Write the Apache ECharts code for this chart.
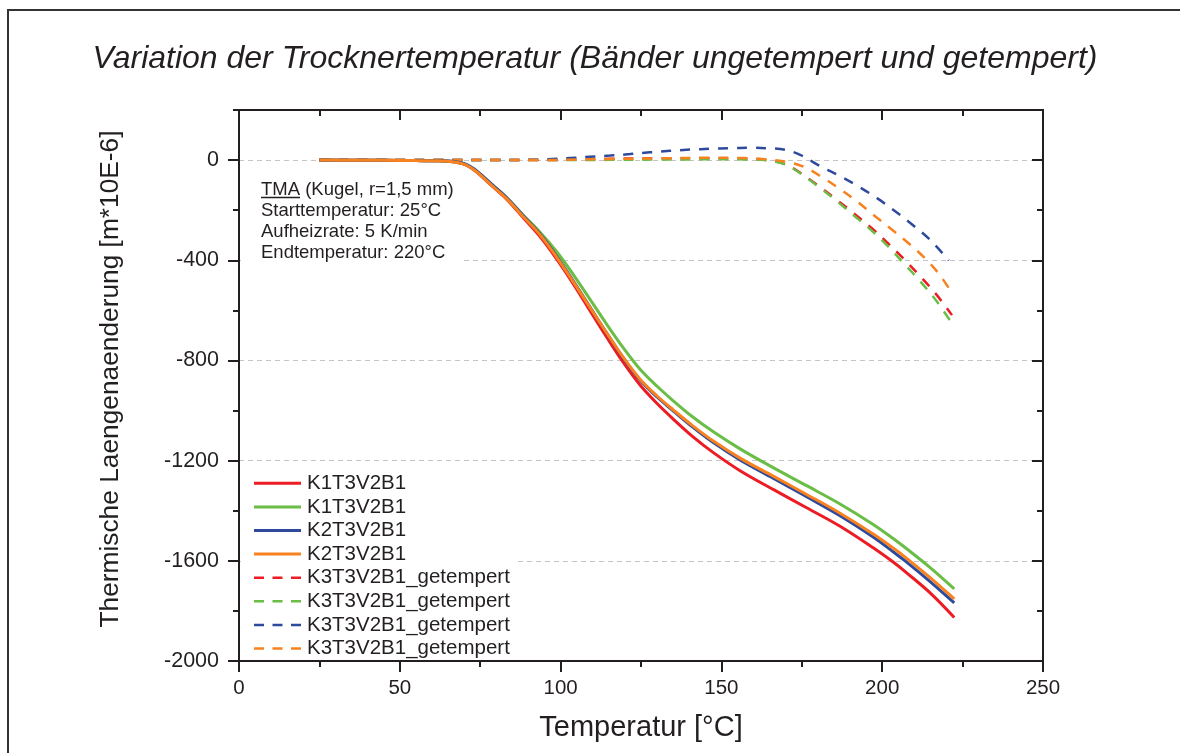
<!DOCTYPE html>
<html>
<head>
<meta charset="utf-8">
<script src="https://cdn.jsdelivr.net/npm/echarts@6/dist/echarts.min.js"></script>
<style>
  html, body { margin: 0; padding: 0; background: #fff; }
  #chart { width: 1180px; height: 753px; }
</style>
</head>
<body>
<div id="chart"></div>
<script>
// Tick values of the value axes
const xMajorTicks = [0, 50, 100, 150, 200, 250];
const yMajorTicks = [-2000, -1600, -1200, -800, -400, 0];

// Legend labels (in legend order)
const legendLabels = [
  'K1T3V2B1', 'K1T3V2B1', 'K2T3V2B1', 'K2T3V2B1',
  'K3T3V2B1_getempert', 'K3T3V2B1_getempert', 'K3T3V2B1_getempert', 'K3T3V2B1_getempert'
];

// Info box lines
const infoLines = [
  'TMA (Kugel, r=1,5 mm)',
  'Starttemperatur: 25°C',
  'Aufheizrate: 5 K/min',
  'Endtemperatur: 220°C'
];

// Measured curves: [temperature °C, length change m*10E-6]
const k1RedData = [[25,0],[35,-1],[45,-1],[55,-2],[62,-3],[65,-5],[67.5,-9],[70.5,-19],[72.8,-37],[75,-60],[79,-107],[83.2,-156],[88.4,-230],[93.6,-305],[98.8,-395],[104,-495],[109,-598],[114.3,-706],[119.5,-808],[124.7,-898],[130,-972],[135.1,-1035],[141,-1103],[147.5,-1168],[155.8,-1240],[166.1,-1315],[176.5,-1388],[186.9,-1462],[197.2,-1548],[203.5,-1606],[207.6,-1648],[214.9,-1728],[222.4,-1826]];
const k1GreenData = [[25,0],[35,-1],[45,-1],[55,-2],[62,-3],[65,-5],[67.5,-8],[70.5,-17],[72.8,-34],[75,-56],[79,-102],[83.2,-150],[88.4,-220],[93.6,-288],[98.8,-366],[104,-458],[109,-553],[114.3,-655],[119.5,-750],[124.7,-835],[130,-903],[135.1,-962],[141,-1025],[147.5,-1085],[155.8,-1153],[166.1,-1228],[176.5,-1300],[186.9,-1373],[197.2,-1455],[203.5,-1512],[207.6,-1552],[214.9,-1627],[222.4,-1712]];
const k2BlueData = [[25,0],[35,-1],[45,-1],[55,-2],[62,-3],[65,-4],[67.5,-7],[70.5,-16],[72.8,-33],[75,-55],[79,-101],[83.2,-150],[88.4,-222],[93.6,-295],[98.8,-384],[104,-484],[109,-584],[114.3,-690],[119.5,-790],[124.7,-878],[130,-946],[135.1,-1002],[141,-1065],[147.5,-1128],[155.8,-1197],[166.1,-1270],[176.5,-1344],[186.9,-1420],[197.2,-1505],[203.5,-1565],[207.6,-1605],[214.9,-1683],[222.4,-1768]];
const k2OrangeData = [[25,0],[35,-1],[45,-1],[55,-2],[62,-3],[65,-5],[67.5,-9],[70.5,-19],[72.8,-37],[75,-59],[79,-106],[83.2,-154],[88.4,-226],[93.6,-298],[98.8,-388],[104,-487],[109,-586],[114.3,-690],[119.5,-788],[124.7,-875],[130,-942],[135.1,-998],[141,-1060],[147.5,-1122],[155.8,-1190],[166.1,-1262],[176.5,-1335],[186.9,-1410],[197.2,-1493],[203.5,-1550],[207.6,-1590],[214.9,-1667],[222.4,-1752]];

const k3RedData = [[25,0],[40,0],[60,0],[80,0],[95,0],[105,2],[115,5],[130,7],[145,7],[155,6],[161,3],[164,0],[167,-6],[169.5,-15],[172,-30],[175,-55],[180.2,-103],[185.9,-159],[191.1,-212],[196.8,-272],[202,-335],[207.2,-401],[211.9,-465],[217,-539],[221.7,-619]];
const k3GreenData = [[25,0],[40,0],[60,0],[80,0],[95,0],[105,0],[115,1],[130,2],[145,3],[155,3],[161,2],[164,-1],[167,-7],[169.5,-16],[172,-32],[175,-57],[180.2,-106],[185.9,-164],[191.1,-220],[196.8,-282],[202,-347],[207.2,-419],[211.9,-485],[217,-565],[221.7,-652]];
const k3BlueData = [[25,0],[40,0],[60,0],[80,0],[90,1],[96,3],[102.9,8],[109,13],[115.4,18],[121.6,24],[127.8,31],[134,37],[140.3,42],[146.5,45],[152.7,48],[159,49],[165,47],[169.8,41],[174.5,21],[180.7,-24],[186.9,-64],[192.7,-106],[198.4,-152],[203.5,-199],[209.3,-257],[215,-320],[220.7,-401]];
const k3OrangeData = [[25,0],[40,0],[60,0],[80,0],[95,0],[105,2],[115,4],[130,7],[146.5,9],[157,8],[163,4],[169.3,-5],[175.5,-26],[181.3,-68],[186.9,-116],[192.2,-165],[197.3,-219],[202.5,-272],[208.2,-332],[213.4,-393],[217.5,-452],[221.7,-530]];

const FONT = '"Liberation Sans", Arial, Helvetica, sans-serif';
const INK = '#231f20';
const RED = '#ed1c24', GREEN = '#6abd45', BLUE = '#2e4a9d', ORANGE = '#f7821f';
const DASH = [10, 9];

// Series in legend order
const curves = [
  { label: legendLabels[0], data: k1RedData, color: RED, dashed: false },
  { label: legendLabels[1], data: k1GreenData, color: GREEN, dashed: false },
  { label: legendLabels[2], data: k2BlueData, color: BLUE, dashed: false },
  { label: legendLabels[3], data: k2OrangeData, color: ORANGE, dashed: false },
  { label: legendLabels[4], data: k3RedData, color: RED, dashed: true },
  { label: legendLabels[5], data: k3GreenData, color: GREEN, dashed: true },
  { label: legendLabels[6], data: k3BlueData, color: BLUE, dashed: true },
  { label: legendLabels[7], data: k3OrangeData, color: ORANGE, dashed: true }
];

const series = curves.map((c, i) => ({
  name: c.label + ' #' + i,
  type: 'line',
  xAxisIndex: 0,
  yAxisIndex: 0,
  data: c.data,
  showSymbol: false,
  symbol: 'none',
  smooth: 0.35,
  z: c.dashed ? 2 : 3,
  lineStyle: { color: c.color, width: c.dashed ? 2.5 : 3, type: c.dashed ? DASH : 'solid', cap: 'butt' },
  emphasis: { disabled: true },
  silent: true
}));

// Graphic: outer frame, white boxes, info text, legend, y-axis title
const graphics = [];
graphics.push({
  type: 'rect', z: 0, silent: true,
  shape: { x: 8, y: 10, width: 1250, height: 900 },
  style: { fill: 'none', stroke: '#333', lineWidth: 2 }
});
// box behind info text
graphics.push({
  type: 'rect', z: 50, silent: true,
  shape: { x: 241, y: 176, width: 222, height: 92 },
  style: { fill: '#fff' }
});
// box behind legend
graphics.push({
  type: 'rect', z: 50, silent: true,
  shape: { x: 241, y: 468, width: 276, height: 191 },
  style: { fill: '#fff' }
});

const infoX = 261, infoY0 = 189.5, infoStep = 21.2, infoSize = 18.5;
infoLines.forEach((t, i) => {
  graphics.push({
    type: 'text', z: 60, silent: true,
    style: {
      text: t, x: infoX, y: infoY0 + i * infoStep,
      fontSize: infoSize, fontFamily: FONT, fill: INK,
      align: 'left', verticalAlign: 'middle'
    }
  });
});
// underline of "TMA"
graphics.push({
  type: 'line', z: 60, silent: true,
  shape: { x1: infoX, y1: 197.5, x2: infoX + 39, y2: 197.5 },
  style: { stroke: INK, lineWidth: 1.3 }
});

const legX1 = 254, legX2 = 301, legTextX = 307, legY0 = 483.3, legStep = 23.6;
curves.forEach((c, i) => {
  const y = legY0 + i * legStep;
  graphics.push({
    type: 'line', z: 60, silent: true,
    shape: { x1: legX1, y1: y, x2: legX2, y2: y },
    style: { stroke: c.color, lineWidth: c.dashed ? 2.5 : 3, lineDash: c.dashed ? [10, 8.5] : null }
  });
  graphics.push({
    type: 'text', z: 60, silent: true,
    style: {
      text: c.label, x: legTextX, y: y,
      fontSize: 20.5, fontFamily: FONT, fill: INK,
      align: 'left', verticalAlign: 'middle'
    }
  });
});

// y-axis title, rotated
graphics.push({
  type: 'text', z: 60, silent: true,
  x: 111, y: 379, rotation: Math.PI / 2,
  style: {
    text: 'Thermische Laengenaenderung [m*10E-6]',
    x: 0, y: 0, fontSize: 26.3, fontFamily: FONT, fill: INK,
    align: 'center', verticalAlign: 'middle'
  }
});

const axisLine = { show: true, onZero: false, lineStyle: { color: INK, width: 2 } };

const option = {
  animation: false,
  backgroundColor: '#fff',
  title: {
    text: 'Variation der Trocknertemperatur (Bänder ungetempert und getempert)',
    left: 590, top: 38, textAlign: 'center',
    textStyle: { fontFamily: FONT, fontStyle: 'italic', fontWeight: 'normal', fontSize: 32, color: INK }
  },
  grid: { left: 239, right: 137, top: 110, bottom: 92, containLabel: false },
  xAxis: [
    {
      type: 'value', position: 'bottom', min: 0, max: 250, interval: 50,
      axisLine: axisLine,
      axisTick: { show: true, inside: false, length: 11, lineStyle: { color: INK, width: 2 } },
      minorTick: { show: true, splitNumber: 2, length: 6, lineStyle: { color: INK, width: 2 } },
      axisLabel: {
        customValues: xMajorTicks,
        margin: 17, fontSize: 20.5, fontFamily: FONT, color: INK
      },
      splitLine: { show: false },
      name: 'Temperatur [°C]', nameLocation: 'middle', nameGap: 52,
      nameTextStyle: { fontFamily: FONT, fontSize: 29, color: INK }
    },
    {
      type: 'value', position: 'top', min: 0, max: 250, interval: 50,
      axisLine: axisLine,
      axisTick: { show: true, inside: true, length: 10, lineStyle: { color: INK, width: 2 } },
      minorTick: { show: true, splitNumber: 2, length: 6, lineStyle: { color: INK, width: 2 } },
      axisLabel: { show: false },
      splitLine: { show: false }
    }
  ],
  yAxis: [
    {
      type: 'value', position: 'left', min: -2000, max: 200, interval: 400,
      axisLine: axisLine,
      axisTick: { show: true, inside: false, length: 11, customValues: yMajorTicks, lineStyle: { color: INK, width: 2 } },
      axisLabel: {
        customValues: yMajorTicks,
        formatter: v => (v > 0 ? '' : String(v)),
        margin: 20, fontSize: 21.5, fontFamily: FONT, color: INK
      },
      splitLine: { show: true, lineStyle: { color: '#c4c4c4', width: 1, type: [5, 4] } }
    },
    {
      type: 'value', position: 'left', min: -2000, max: 200, interval: 200,
      axisLine: { show: false, onZero: false },
      axisTick: { show: true, inside: false, length: 6, lineStyle: { color: INK, width: 2 } },
      axisLabel: { show: false },
      splitLine: { show: false }
    },
    {
      type: 'value', position: 'right', min: -2000, max: 200, interval: 400,
      axisLine: axisLine,
      axisTick: { show: true, inside: true, length: 11, customValues: yMajorTicks, lineStyle: { color: INK, width: 2 } },
      axisLabel: { show: false },
      splitLine: { show: false }
    },
    {
      type: 'value', position: 'right', min: -2000, max: 200, interval: 200,
      axisLine: { show: false, onZero: false },
      axisTick: { show: true, inside: true, length: 6, lineStyle: { color: INK, width: 2 } },
      axisLabel: { show: false },
      splitLine: { show: false }
    }
  ],
  series: series,
  graphic: { elements: graphics }
};

const chart = echarts.init(document.getElementById('chart'), null, { renderer: 'canvas' });
chart.setOption(option);
</script>
</body>
</html>
